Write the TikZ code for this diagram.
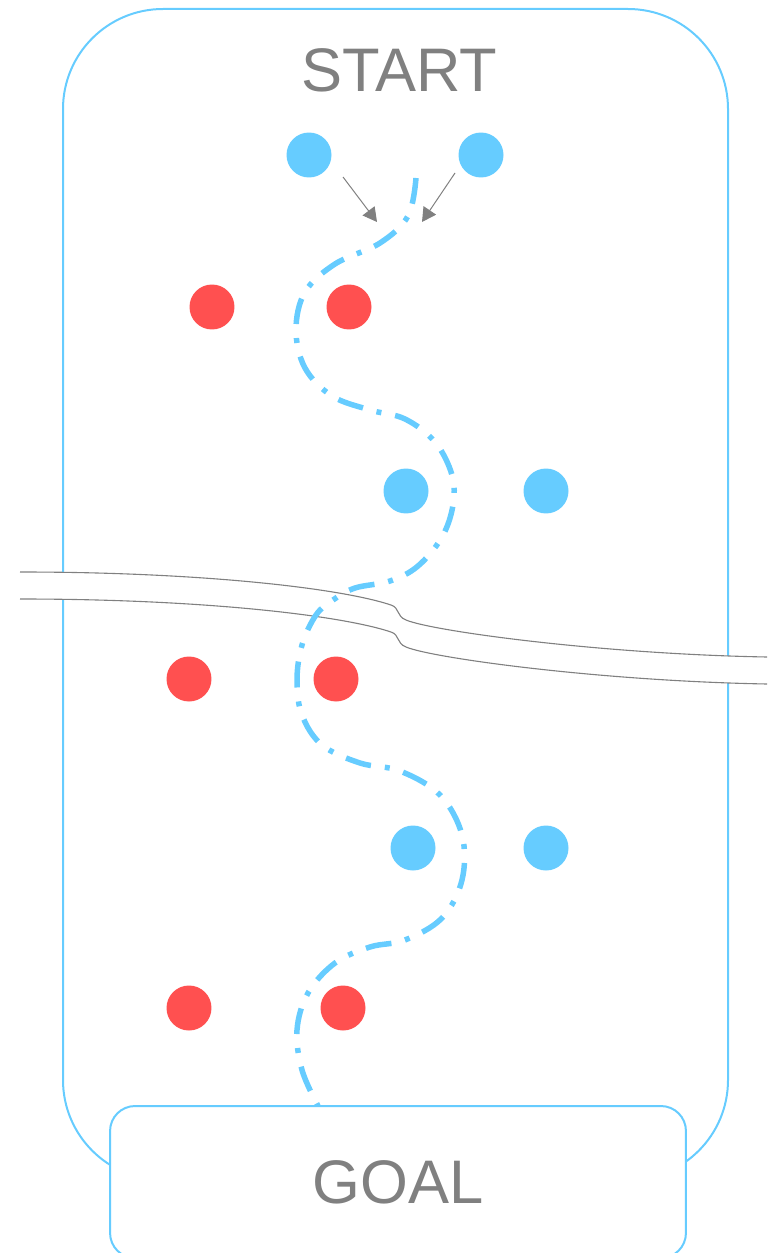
\documentclass[tikz,border=0pt]{standalone}
\usepackage{fontspec}
\setmainfont{Liberation Sans}
\usepackage{tikz}
\usetikzlibrary{arrows.meta}
\usepackage{xcolor}

\definecolor{lightblue}{RGB}{102,204,255}
\definecolor{dotred}{RGB}{255,80,80}
\definecolor{textgray}{RGB}{128,128,128}

\tikzset{
  bluedot/.style={circle, fill=lightblue, minimum size=0.9cm, inner sep=0pt},
  reddot/.style={circle, fill=dotred, minimum size=0.9cm, inner sep=0pt},
  outline/.style={draw=lightblue, line width=0.04cm},
  route/.style={lightblue, line width=0.11cm, dash pattern=on 0.52cm off 0.28cm on 0.1cm off 0.28cm},
  crackline/.style={textgray, line width=0.022cm},
  pointer/.style={textgray, line width=0.02cm, -{Triangle[length=0.28cm, width=0.3cm]}},
  label/.style={text=textgray, font=\fontsize{35}{42}\selectfont, inner sep=0pt}
}

\newcommand{\crackcurve}{(20,572) .. controls (200,572) and (340,588) .. (391,605)
  .. controls (400,608) and (396,616) .. (406,620)
  .. controls (432,631) and (600,654) .. (767,657)}

\begin{document}
\begin{tikzpicture}[x=0.02cm, y=-0.02cm]
\useasboundingbox (0,0) rectangle (767,1253);

% field
\draw[outline, rounded corners=2cm] (63,9) rectangle (728,1180);
\node[label] (start) at (399,70) {START};

% break in the field
\fill[white] \crackcurve -- (767,684)
  .. controls (600,681) and (432,658) .. (406,647)
  .. controls (396,643) and (400,635) .. (391,632)
  .. controls (340,615) and (200,599) .. (20,599) -- cycle;
\draw[crackline] \crackcurve;
\draw[crackline, shift={(0,27)}] \crackcurve;

% path through
\draw[route] plot[smooth, tension=0.6] coordinates {
  (416,178) (408,216) (380,243) (335,264) (305,292) (296,330) (305,368)
  (332,396) (370,410) (405,419) (435,442) (452,475) (453,505) (442,537)
  (418,566) (390,581) (355,588) (333,600) (316,615) (302,645) (297,680)
  (302,715) (322,745) (360,763) (400,771) (440,795) (462,835) (462,880)
  (442,918) (405,940) (370,947) (335,963) (308,993) (297,1030) (302,1070)
  (318,1106)};

% players
\node[bluedot] (b1) at (309,155) {};
\node[bluedot] (b2) at (481,155) {};
\node[reddot] (r1) at (212,307) {};
\node[reddot] (r2) at (349,307) {};
\node[bluedot] (b3) at (406,491) {};
\node[bluedot] (b4) at (546,491) {};
\node[reddot] (r3) at (189,679) {};
\node[reddot] (r4) at (336,679) {};
\node[bluedot] (b5) at (413,848) {};
\node[bluedot] (b6) at (546,848) {};
\node[reddot] (r5) at (189,1008) {};
\node[reddot] (r6) at (343,1008) {};

% arrows into the path
\coordinate (fromleft) at (343,177);
\coordinate (toleft) at (377,222);
\coordinate (fromright) at (455,173);
\coordinate (toright) at (422,222);
\draw[pointer] (fromleft) -- (toleft);
\draw[pointer] (fromright) -- (toright);

% goal
\node[outline, label, fill=white, rounded corners=0.5cm,
  minimum width=11.52cm, minimum height=3.04cm] (goal) at (398,1182) {GOAL};
\end{tikzpicture}
\end{document}
